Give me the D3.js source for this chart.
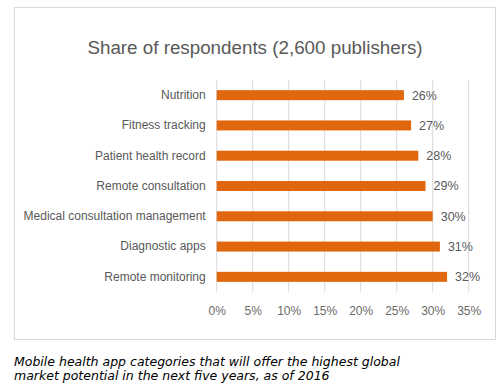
<!DOCTYPE html>
<html><head><meta charset="utf-8">
<script src="https://cdn.jsdelivr.net/npm/d3@7"></script>
<style>body{margin:0;background:#fff}svg{display:block}</style>
</head><body>
<script>
const categories = ["Nutrition","Fitness tracking","Patient health record","Remote consultation","Medical consultation management","Diagnostic apps","Remote monitoring"];
const values = [26,27,28,29,30,31,32];
const tickValues = [0,5,10,15,20,25,30,35];
const title = "Share of respondents (2,600 publishers)";
const caption = ["Mobile health app categories that will offer the highest global","market potential in the next five years, as of 2016"];

const W=500,H=383;
const svg=d3.select("body").append("svg").attr("width",W).attr("height",H);
svg.append("rect").attr("x",14.5).attr("y",7.5).attr("width",481).attr("height",332)
  .attr("fill","#fff").attr("stroke","#d9d9d9");
svg.append("text").attr("x",255).attr("y",54).attr("text-anchor","middle")
  .attr("font-family","Liberation Sans, Arial, sans-serif").attr("font-size",18.8).attr("fill","#595959").text(title);

const x=d3.scaleLinear().domain([0,35]).range([216.7,468.7]);
const y=d3.scaleBand().domain(categories).range([80,292]).paddingInner(0.67).paddingOuter(0.335);

const g=svg.append("g");
g.selectAll("line.grid").data(tickValues).join("line").attr("class","grid")
  .attr("x1",d=>x(d)).attr("x2",d=>x(d)).attr("y1",80).attr("y2",292)
  .attr("stroke","#d9d9d9").attr("stroke-width",1);

const xa=svg.append("g").attr("transform","translate(0,292)")
  .call(d3.axisBottom(x).tickValues(tickValues).tickFormat(d=>d+"%").tickSize(0).tickPadding(14));
xa.select(".domain").remove();
xa.selectAll("text").attr("font-family","Liberation Sans, Arial, sans-serif").attr("font-size",12).attr("fill","#6a6a6a");

const ya=svg.append("g").attr("transform","translate(216.7,0)")
  .call(d3.axisLeft(y).tickSize(0).tickPadding(11));
ya.select(".domain").remove();
ya.selectAll("text").attr("font-family","Liberation Sans, Arial, sans-serif").attr("font-size",12).attr("fill","#595959");

g.selectAll("rect.bar").data(values).join("rect").attr("class","bar")
  .attr("x",x(0)).attr("y",(d,i)=>y(categories[i]))
  .attr("width",d=>x(d)-x(0)).attr("height",y.bandwidth()).attr("fill","#e1670f");

g.selectAll("text.val").data(values).join("text").attr("class","val")
  .attr("x",d=>x(d)+8).attr("y",(d,i)=>y(categories[i])+y.bandwidth()/2).attr("dy","0.35em")
  .attr("font-family","Liberation Sans, Arial, sans-serif").attr("font-size",12.5).attr("fill","#595959")
  .text(d=>d+"%");

svg.selectAll("text.cap").data(caption).join("text").attr("class","cap")
  .attr("x",14).attr("y",(d,i)=>365.5+i*14)
  .attr("font-family","DejaVu Sans, Verdana, sans-serif").attr("font-style","italic").attr("font-size",12.5).attr("fill","#000")
  .text(d=>d);
</script>
</body></html>
